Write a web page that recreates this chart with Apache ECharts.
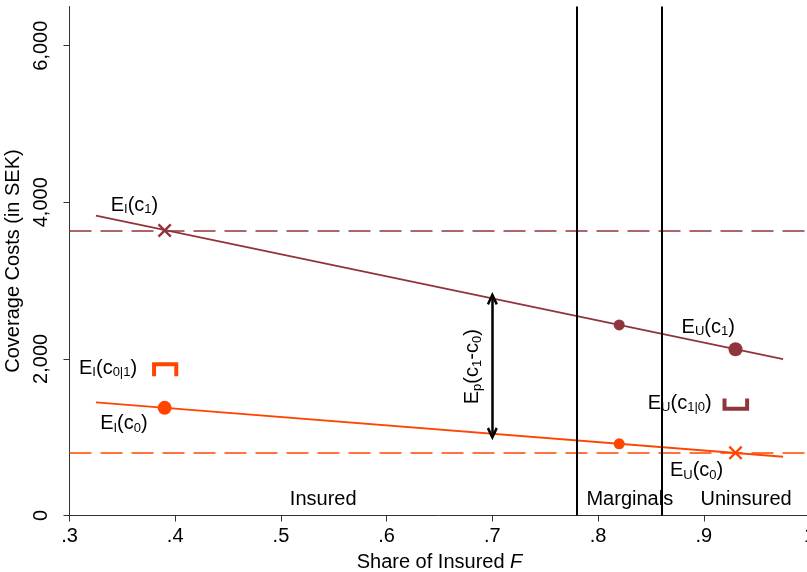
<!DOCTYPE html>
<html><head><meta charset="utf-8">
<script src="https://cdn.jsdelivr.net/npm/echarts@6/dist/echarts.min.js"></script>
<style>html,body{margin:0;padding:0;background:#fff}#c{width:807px;height:572px}</style>
</head><body><div id="c"></div>
<script>
// ---- data ----
const xTicks = [0.3, 0.4, 0.5, 0.6, 0.7, 0.8, 0.9, 1.0];
const yTicks = [0, 2000, 4000, 6000];
const treatedLine = [[0.325, 3829], [0.975, 1996]];   // c1 line
const controlLine = [[0.325, 1444], [0.975, 750]];    // c0 line
const treatedSmallDots = [[0.82, 2433]];
const treatedBigDots = [[0.93, 2123]];
const treatedCross = [[0.39, 3640]];
const controlSmallDots = [[0.82, 915]];
const controlBigDots = [[0.39, 1375]];
const controlCross = [[0.93, 800]];
const treatedLevel = 3638;
const controlLevel = 801;
const boundaries = [0.78, 0.86];
const boundI01 = [[0.380, 1779], [0.380, 1932], [0.401, 1932], [0.401, 1779]];
const boundU10 = [[0.9196, 1495], [0.9196, 1362], [0.941, 1362], [0.941, 1495]];
const arrowEnds = [[0.7, 1043], [0.7, 2771]];
const labelsData = [
  {value: [0.339, 3965], text: '{m|E}{s|I}{m|(c}{s|1}{m|)}'},
  {value: [0.309, 1880], text: '{m|E}{s|I}{m|(c}{s|0|1}{m|)}'},
  {value: [0.329, 1175], text: '{m|E}{s|I}{m|(c}{s|0}{m|)}'},
  {value: [0.879, 2405], text: '{m|E}{s|U}{m|(c}{s|1}{m|)}'},
  {value: [0.847, 1435], text: '{m|E}{s|U}{m|(c}{s|1|0}{m|)}'},
  {value: [0.868, 575], text: '{m|E}{s|U}{m|(c}{s|0}{m|)}'}
];
const regionLabels = [
  {value: [0.54, 200], text: 'Insured'},
  {value: [0.83, 200], text: 'Marginals'},
  {value: [0.94, 200], text: 'Uninsured'}
];
const arrowLabel = [{value: [0.6815, 1900], text: '{m|E}{s|p}{m|(c}{s|1}{m|-c}{s|0}{m|)}'}];

// ---- styles ----
const RED = '#90353B', ORG = '#FF4500';
const FONT = 'Liberation Sans';
const crossPath = 'path://M0,1.2 L1.2,0 L5,3.8 L8.8,0 L10,1.2 L6.2,5 L10,8.8 L8.8,10 L5,6.2 L1.2,10 L0,8.8 L3.8,5 Z';
const chevron = 'path://M0,9 L5,0 L10,9 L8,10 L5,4.5 L2,10 Z';
const txt = {fontFamily: FONT, color: '#000', textBorderWidth: 0, textShadowBlur: 0};
const rich = {
  m: Object.assign({fontSize: 20, lineHeight: 22}, txt),
  s: Object.assign({fontSize: 13, lineHeight: 22, padding: [9, 0, 0, 0]}, txt)
};

const chart = echarts.init(document.getElementById('c'), null, {renderer: 'canvas'});
const scatterMarks = (data, sym, size, color) => ({
  type: 'scatter', data, symbol: sym, symbolSize: size, z: 5,
  itemStyle: {color, opacity: 1}, silent: true
});
const textSeries = (items, label) => ({
  type: 'scatter', symbolSize: 0, z: 6, silent: true,
  itemStyle: {opacity: 1, color: '#000'},
  data: items.map(d => ({value: d.value, label: {formatter: d.text}})),
  label: Object.assign({show: true, opacity: 1}, label, txt)
});
chart.setOption({
  animation: false,
  backgroundColor: '#fff',
  grid: {left: 69.5, right: -2.5, top: 6.5, bottom: 56.5, containLabel: false, outerBoundsMode: 'none'},
  xAxis: {
    type: 'value', min: 0.3, max: 1.0,
    name: 'Share of Insured {i|F}', nameLocation: 'middle', nameGap: 37,
    nameTextStyle: Object.assign({fontSize: 20,
      rich: {i: Object.assign({fontSize: 20, fontStyle: 'italic'}, txt)}}, txt),
    axisLine: {onZero: false, lineStyle: {color: '#333', width: 1}},
    axisTick: {customValues: xTicks, length: 6, lineStyle: {color: '#333'}},
    axisLabel: Object.assign({customValues: xTicks, fontSize: 20, margin: 11,
      formatter: v => Math.abs(v - 1) < 1e-9 ? '1' : '.' + Math.round(v * 10)}, txt),
    splitLine: {show: false}
  },
  yAxis: {
    type: 'value', min: 0, max: 6500,
    name: 'Coverage Costs (in SEK)', nameLocation: 'middle', nameGap: 39,
    nameTextStyle: Object.assign({fontSize: 20}, txt),
    axisLine: {onZero: false, lineStyle: {color: '#333', width: 1}},
    axisTick: {customValues: yTicks, length: 6, lineStyle: {color: '#333'}},
    axisLabel: Object.assign({customValues: yTicks, rotate: 90, fontSize: 20, margin: 18,
      formatter: v => v.toLocaleString('en-US')}, txt),
    splitLine: {show: false}
  },
  series: [
    {type: 'line', data: treatedLine, symbol: 'none', lineStyle: {color: RED, width: 1.8}, z: 3,
      markLine: {silent: true, symbol: 'none', label: {show: false},
        lineStyle: {color: RED, width: 1.5, type: [22, 9]},
        data: [{yAxis: treatedLevel}]}},
    {type: 'line', data: controlLine, symbol: 'none', lineStyle: {color: ORG, width: 1.8}, z: 3,
      markLine: {silent: true, symbol: 'none', label: {show: false},
        lineStyle: {color: ORG, width: 1.5, type: [22, 9]},
        data: [{yAxis: controlLevel}]}},
    {type: 'line', data: [], symbol: 'none',
      markLine: {silent: true, symbol: 'none', label: {show: false},
        lineStyle: {color: '#000', width: 2, type: 'solid'},
        data: boundaries.map(b => ({xAxis: b}))}},
    {type: 'line', data: [], symbol: 'none',
      markLine: {silent: true, symbol: [chevron, chevron], symbolSize: [11, 13], symbolOffset: 0,
        label: {show: false},
        lineStyle: {color: '#000', width: 2.5, type: 'solid'},
        itemStyle: {color: '#000'},
        data: [[{coord: arrowEnds[0]}, {coord: arrowEnds[1]}]]}},
    {type: 'line', data: boundI01, symbol: 'none', lineStyle: {color: ORG, width: 4, cap: 'butt', join: 'miter'}, z: 4},
    {type: 'line', data: boundU10, symbol: 'none', lineStyle: {color: RED, width: 4, cap: 'butt', join: 'miter'}, z: 4},
    scatterMarks(treatedSmallDots, 'circle', 11, RED),
    scatterMarks(treatedBigDots, 'circle', 14, RED),
    scatterMarks(treatedCross, crossPath, 14, RED),
    scatterMarks(controlSmallDots, 'circle', 11, ORG),
    scatterMarks(controlBigDots, 'circle', 14, ORG),
    scatterMarks(controlCross, crossPath, 14, ORG),
    textSeries(labelsData, {position: 'right', distance: 0, rich}),
    textSeries(regionLabels, {position: 'inside', fontSize: 20}),
    textSeries(arrowLabel, {position: 'inside', rotate: 90, rich})
  ]
});
</script></body></html>
